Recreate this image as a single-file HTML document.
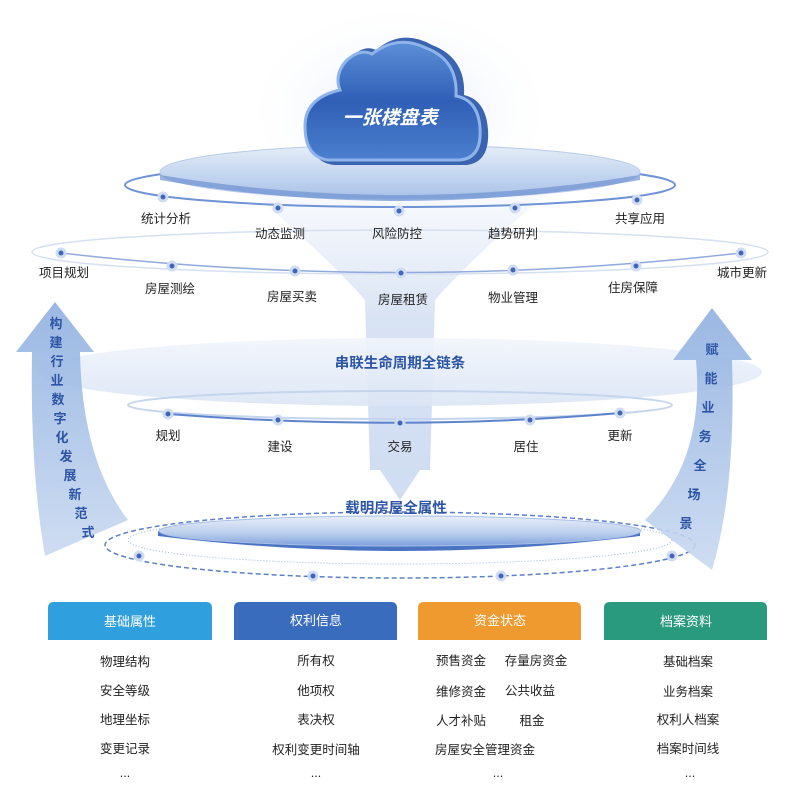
<!DOCTYPE html>
<html><head><meta charset="utf-8"><style>
html,body{margin:0;padding:0;background:#fff;}
svg{display:block;}
text{font-family:"Liberation Sans","Noto Sans CJK SC",sans-serif;}
</style></head><body>
<svg width="800" height="791" viewBox="0 0 800 791" xmlns="http://www.w3.org/2000/svg">
<defs>
<radialGradient id="glow" cx="50%" cy="50%" r="50%"><stop offset="0" stop-color="#dfe8f6"/><stop offset="1" stop-color="#ffffff" stop-opacity="0"/></radialGradient>
<linearGradient id="cloud" x1="0" y1="0" x2="0" y2="1"><stop offset="0" stop-color="#5c8fd8"/><stop offset="0.5" stop-color="#2f5fb6"/><stop offset="1" stop-color="#4c7fce"/></linearGradient>
<linearGradient id="disc1" x1="0" y1="0" x2="0" y2="1"><stop offset="0" stop-color="#e6eef9"/><stop offset="1" stop-color="#a9c2e8"/></linearGradient>
<linearGradient id="disc2" x1="0" y1="0" x2="0" y2="1"><stop offset="0" stop-color="#e9eff9"/><stop offset="0.6" stop-color="#b9cdec"/><stop offset="1" stop-color="#7d9fdb"/></linearGradient>
<linearGradient id="funnel" x1="0" y1="0" x2="0" y2="1"><stop offset="0" stop-color="#eef3fb" stop-opacity="0.6"/><stop offset="0.4" stop-color="#cfdcf1"/><stop offset="1" stop-color="#c3d4ef"/></linearGradient>
<linearGradient id="arrowL" x1="0" y1="0" x2="0" y2="1"><stop offset="0" stop-color="#8fb0e0"/><stop offset="1" stop-color="#c9d9f0"/></linearGradient>
<linearGradient id="ellM" x1="0" y1="0" x2="0" y2="1"><stop offset="0" stop-color="#f1f5fc"/><stop offset="1" stop-color="#dbe5f5"/></linearGradient>
</defs>

<ellipse cx="400" cy="110" rx="160" ry="110" fill="url(#glow)"/>
<path d="M255,195 L545,195 Q470,260 435,300 L430,470 L420,470 L400,500 L380,470 L370,470 L365,300 Q330,260 255,195 Z" fill="url(#funnel)" opacity="0.8"/>

<ellipse cx="400" cy="372" rx="362" ry="34" fill="url(#ellM)" opacity="0.9"/>
<ellipse cx="400" cy="405" rx="272" ry="14" fill="none" stroke="#c5d5ee" stroke-width="2"/>
<path d="M168,414 Q400,432 620,413" fill="none" stroke="#5d83cc" stroke-width="2"/>

<ellipse cx="400" cy="252" rx="368" ry="22" fill="none" stroke="#d5e0f1" stroke-width="1.5"/>
<path d="M61,253 Q400,292 741,253" fill="none" stroke="#8faadb" stroke-width="1.5"/>
<ellipse cx="400" cy="185" rx="275" ry="22" fill="none" stroke="#6f93d4" stroke-width="2"/>
<ellipse cx="400" cy="172" rx="240" ry="27" fill="url(#disc1)" stroke="#b8cbea" stroke-width="1"/>
<path d="M160,175 Q400,215 640,175 L640,180 Q400,222 160,180 Z" fill="#6e92d2" opacity="0.7"/>

<path d="M334,165 L467,165 Q490,162 488,130 Q486,100 464,95 Q466,58 432,45 Q402,28 376,50 Q364,44 350,58 Q338,72 344,88 Q308,96 308,126 Q308,162 334,165 Z" fill="#3a63b0"/>
<path d="M328,160 L460,160 Q482,158 480,128 Q478,100 456,96 Q458,60 426,48 Q398,34 372,54 Q360,48 346,61 Q334,75 340,90 Q305,98 305,126 Q305,157 328,160 Z" fill="url(#cloud)" stroke="#8fb4ea" stroke-width="3"/>
<text x="390" y="124" font-size="19" font-weight="bold" font-style="italic" fill="#fff" text-anchor="middle">一张楼盘表</text>

<!-- bottom disc -->
<ellipse cx="400" cy="545" rx="295" ry="33" fill="none" stroke="#5c80c6" stroke-width="1.5" stroke-dasharray="5,3"/>
<ellipse cx="400" cy="540" rx="272" ry="24" fill="none" stroke="#9bb3de" stroke-width="1" stroke-dasharray="1,2"/>
<path d="M158,531 L158,536 Q400,566 640,536 L640,531 Z" fill="#4a74c3"/>
<ellipse cx="400" cy="531" rx="241" ry="15" fill="url(#disc2)" stroke="#a8bfe6" stroke-width="1"/>

<g fill="#3f66b8" stroke="#cfdcf2" stroke-width="3">
<circle cx="163" cy="197" r="4"/><circle cx="278" cy="208" r="4"/><circle cx="399" cy="211" r="4"/><circle cx="515" cy="208" r="4"/><circle cx="637" cy="200" r="4"/>
<circle cx="61" cy="253" r="4"/><circle cx="172" cy="266" r="4"/><circle cx="295" cy="271" r="4"/><circle cx="401" cy="273" r="4"/><circle cx="513" cy="270" r="4"/><circle cx="636" cy="266" r="4"/><circle cx="741" cy="253" r="4"/>
<circle cx="168" cy="414" r="4"/><circle cx="278" cy="420" r="4"/><circle cx="400" cy="423" r="4"/><circle cx="530" cy="420" r="4"/><circle cx="620" cy="413" r="4"/>
<circle cx="139" cy="556" r="4"/><circle cx="313" cy="576" r="4"/><circle cx="501" cy="576" r="4"/><circle cx="672" cy="556" r="4"/>
</g>

<g font-size="12.5" fill="#222" text-anchor="middle">
<text x="166" y="223">统计分析</text><text x="280" y="238">动态监测</text><text x="397" y="238">风险防控</text><text x="513" y="238">趋势研判</text><text x="640" y="223">共享应用</text>
<text x="64" y="277">项目规划</text><text x="170" y="293">房屋测绘</text><text x="292" y="301">房屋买卖</text><text x="403" y="304">房屋租赁</text><text x="513" y="302">物业管理</text><text x="633" y="292">住房保障</text><text x="742" y="277">城市更新</text>
<text x="168" y="440">规划</text><text x="280" y="451">建设</text><text x="400" y="451">交易</text><text x="526" y="451">居住</text><text x="620" y="440">更新</text>
</g>
<text x="400" y="368" font-size="14.5" font-weight="bold" fill="#2d55a6" text-anchor="middle">串联生命周期全链条</text>
<text x="396" y="513" font-size="14.5" font-weight="bold" fill="#2d55a6" text-anchor="middle">载明房屋全属性</text>

<path d="M45,556 Q30,470 32,352 L16,352 L55,302 L94,352 L80,352 Q82,460 128,520 Z" fill="url(#arrowL)" opacity="0.9"/>
<g font-size="13" font-weight="bold" fill="#2d55a6" text-anchor="middle">
<text x="56" y="328">构</text><text x="56" y="347">建</text><text x="57" y="366">行</text><text x="57" y="385">业</text><text x="58" y="404">数</text><text x="60" y="423">字</text><text x="62" y="442">化</text><text x="66" y="461">发</text><text x="70" y="480">展</text><text x="75" y="499">新</text><text x="81" y="518">范</text><text x="88" y="537">式</text>
</g>
<path d="M645,520 Q705,460 696,360 L673,360 L712,308 L752,360 L732,360 Q736,490 712,570 Z" fill="url(#arrowL)" opacity="0.9"/>
<g font-size="13" font-weight="bold" fill="#2d55a6" text-anchor="middle">
<text x="712" y="354">赋</text><text x="711" y="383">能</text><text x="708" y="412">业</text><text x="705" y="441">务</text><text x="700" y="470">全</text><text x="694" y="499">场</text><text x="686" y="528">景</text>
</g>

<g>
<path d="M48,608 Q48,602 54,602 L206,602 Q212,602 212,608 L212,640 L48,640 Z" fill="#2f9fdd"/>
<path d="M234,608 Q234,602 240,602 L391,602 Q397,602 397,608 L397,640 L234,640 Z" fill="#3a6cbd"/>
<path d="M418,608 Q418,602 424,602 L575,602 Q581,602 581,608 L581,640 L418,640 Z" fill="#ee9a2e"/>
<path d="M604,608 Q604,602 610,602 L761,602 Q767,602 767,608 L767,640 L604,640 Z" fill="#2a9a7e"/>
</g>
<g font-size="13" fill="#fff" text-anchor="middle">
<text x="130" y="626">基础属性</text><text x="316" y="625">权利信息</text><text x="500" y="625">资金状态</text><text x="686" y="626">档案资料</text>
</g>
<g font-size="12.5" fill="#222" text-anchor="middle">
<text x="125" y="666">物理结构</text><text x="125" y="695">安全等级</text><text x="125" y="724">地理坐标</text><text x="125" y="753">变更记录</text><text x="125" y="777">...</text>
<text x="316" y="665">所有权</text><text x="316" y="695">他项权</text><text x="316" y="724">表决权</text><text x="316" y="754">权利变更时间轴</text><text x="316" y="777">...</text>
<text x="461" y="665">预售资金</text><text x="536" y="665">存量房资金</text>
<text x="461" y="696">维修资金</text><text x="530" y="695">公共收益</text>
<text x="461" y="725">人才补贴</text><text x="532" y="725">租金</text>
<text x="485" y="754">房屋安全管理资金</text><text x="498" y="777">...</text>
<text x="688" y="666">基础档案</text><text x="688" y="696">业务档案</text><text x="688" y="724">权利人档案</text><text x="688" y="753">档案时间线</text><text x="690" y="777">...</text>
</g>
</svg>
</body></html>
